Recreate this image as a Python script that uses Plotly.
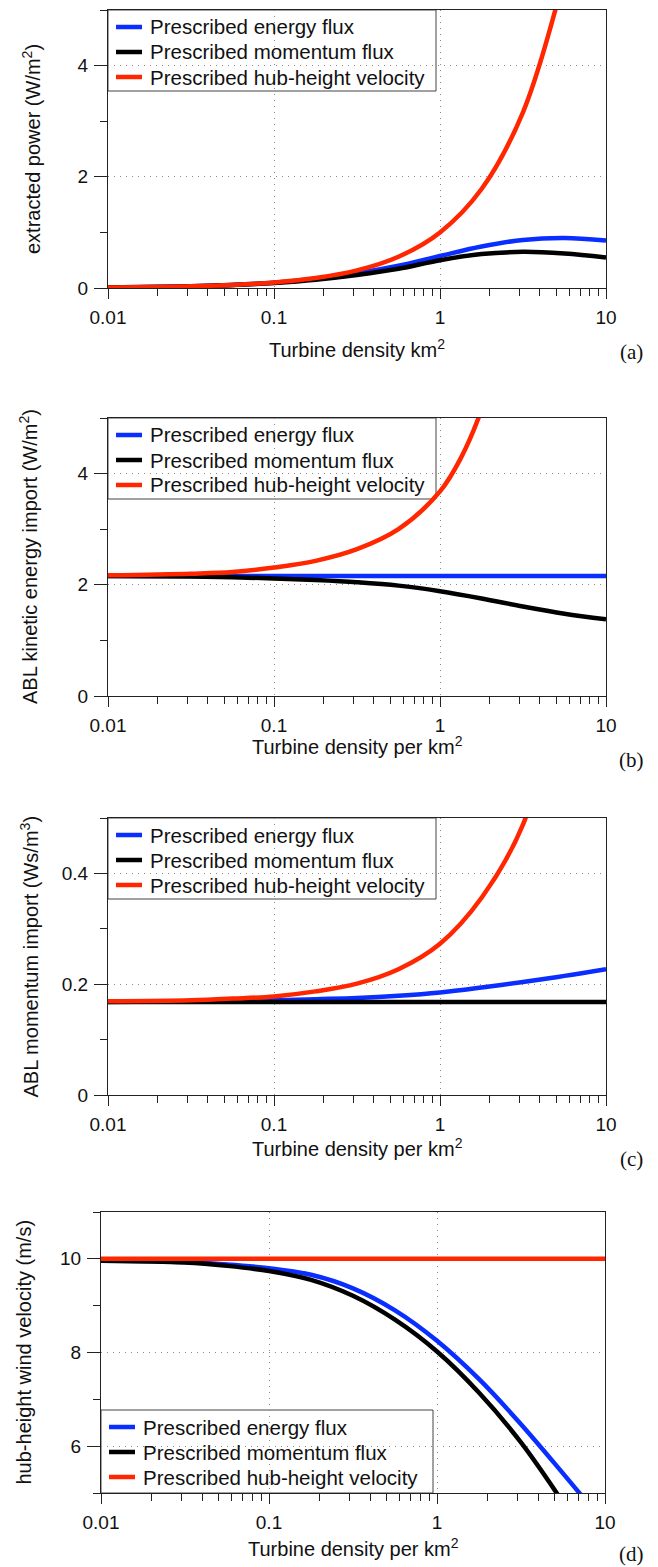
import plotly.graph_objects as go

# browser window is 658x1567; the page body has an 8px margin
VIEW_W, VIEW_H, OFF = 658, 1567, 8
W, H = VIEW_W - OFF, VIEW_H - OFF

# ---------------- data ----------------
series_names = ["Prescribed energy flux", "Prescribed momentum flux", "Prescribed hub-height velocity"]

n_grid = [0.01, 0.0316, 0.0562, 0.1, 0.178, 0.316, 0.562, 1.0, 1.78, 3.16, 5.62, 10.0]

# (a) extracted power (W/m^2)
power_energy = [0.01, 0.031, 0.055, 0.095, 0.165, 0.265, 0.40, 0.575, 0.745, 0.865, 0.90, 0.855]
power_momentum = [0.01, 0.031, 0.054, 0.092, 0.15, 0.235, 0.345, 0.50, 0.61, 0.65, 0.62, 0.55]
n_a_vel = [0.01, 0.0316, 0.0562, 0.1, 0.178, 0.316, 0.562, 1.0, 1.78, 3.16, 5.62]
power_velocity = [0.01, 0.032, 0.056, 0.1, 0.178, 0.316, 0.562, 1.0, 1.78, 3.16, 5.62]

# (b) ABL kinetic energy import (W/m^2)
ke_energy = [2.16, 2.16, 2.16, 2.16, 2.16, 2.16, 2.16, 2.16, 2.16, 2.16, 2.16, 2.16]
ke_momentum = [2.16, 2.15, 2.135, 2.115, 2.085, 2.045, 1.985, 1.885, 1.755, 1.61, 1.48, 1.38]
n_b_vel = [0.01, 0.0316, 0.0562, 0.1, 0.178, 0.316, 0.562, 1.0, 1.33, 1.78, 2.37]
ke_velocity = [2.17, 2.20, 2.23, 2.31, 2.43, 2.64, 3.00, 3.68, 4.27, 5.15, 6.40]

# (c) ABL momentum import (Ws/m^3)
mom_energy = [0.168, 0.169, 0.170, 0.171, 0.173, 0.175, 0.179, 0.185, 0.194, 0.204, 0.215, 0.227]
mom_momentum = [0.168, 0.168, 0.168, 0.168, 0.168, 0.168, 0.168, 0.168, 0.168, 0.168, 0.168, 0.168]
n_c_vel = [0.01, 0.0316, 0.0562, 0.1, 0.178, 0.316, 0.562, 1.0, 1.78, 3.16, 5.62]
mom_velocity = [0.169, 0.171, 0.174, 0.178, 0.187, 0.201, 0.227, 0.273, 0.356, 0.488, 0.76]

# (d) hub-height wind velocity (m/s)
vel_energy = [9.97, 9.93, 9.88, 9.80, 9.66, 9.37, 8.90, 8.25, 7.43, 6.47, 5.42, 4.34]
n_d_mom = [0.01, 0.0316, 0.0562, 0.1, 0.178, 0.316, 0.562, 1.0, 1.78, 3.16, 5.62]
vel_momentum = [9.96, 9.92, 9.85, 9.74, 9.55, 9.21, 8.70, 8.02, 7.14, 6.08, 4.80]
n_d_vel = [0.01, 0.1, 1, 10]
vel_velocity = [10.0, 10.0, 10.0, 10.0]

x_ticks = [0.01, 0.1, 1, 10]
x_ticktext = ["0.01", "0.1", "1", "10"]

panel_labels = ["(a)", "(b)", "(c)", "(d)"]
x_titles = ["Turbine density km<sup>2</sup>", "Turbine density per km<sup>2</sup>",
            "Turbine density per km<sup>2</sup>", "Turbine density per km<sup>2</sup>"]
y_titles = ["extracted power (W/m<sup>2</sup>)", "ABL kinetic energy import (W/m<sup>2</sup>)",
            "ABL momentum import (Ws/m<sup>3</sup>)", "hub-height wind velocity (m/s)"]

# ---------------- styling ----------------
COLORS = ["#0A2EFF", "#000000", "#FF2600"]
LW = 4.5
SANS = "Liberation Sans, Arial, Helvetica, sans-serif"
SERIF = "Liberation Serif, Times New Roman, serif"
AXC = "#222222"


def px_x(x):
    return (x - OFF) / W


def px_y(y):
    return 1 - (y - OFF) / H


# screen-pixel boxes of the four plot areas: (left, right, top, bottom)
boxes = [(108, 606, 10, 288), (108, 606, 418, 696), (108, 606, 818, 1095), (101, 605, 1212, 1493)]
# legend boxes (left, right, top, bottom) in screen pixels
legend_boxes = [(108, 436, 10, 91), (108, 436, 418, 499), (108, 436, 818, 899), (101, 433, 1410, 1493)]

minor_x = [m * d for d in (0.01, 0.1, 1) for m in range(2, 10)]

panels = [
    dict(series=[(n_grid, power_energy), (n_grid, power_momentum), (n_a_vel, power_velocity)],
         yrange=[0, 5], yt=[0, 2, 4], ytt=["0", "2", "4"], ym=[1, 3, 5]),
    dict(series=[(n_grid, ke_energy), (n_grid, ke_momentum), (n_b_vel, ke_velocity)],
         yrange=[0, 5], yt=[0, 2, 4], ytt=["0", "2", "4"], ym=[1, 3, 5]),
    dict(series=[(n_grid, mom_energy), (n_grid, mom_momentum), (n_c_vel, mom_velocity)],
         yrange=[0, 0.5], yt=[0, 0.2, 0.4], ytt=["0", "0.2", "0.4"], ym=[0.1, 0.3, 0.5]),
    dict(series=[(n_grid, vel_energy), (n_d_mom, vel_momentum), (n_d_vel, vel_velocity)],
         yrange=[5, 11], yt=[6, 8, 10], ytt=["6", "8", "10"], ym=[5, 7, 9, 11]),
]

fig = go.Figure()
layout = {}
annotations = []
shapes = []
y_title_x = [31, 29, 29, 23]
x_title_y = [348, 745, 1147, 1547]
label_y = [352, 760, 1159, 1554]

for i, p in enumerate(panels):
    k = "" if i == 0 else str(i + 1)
    xa, ya = "x" + k, "y" + k
    for j, (xs, ys) in enumerate(p["series"]):
        fig.add_trace(go.Scatter(
            x=xs, y=ys, mode="lines", name=series_names[j],
            line=dict(color=COLORS[j], width=LW, shape="spline", smoothing=1.0),
            xaxis=xa, yaxis=ya, showlegend=False, hoverinfo="skip"))
    l, r, t, b = boxes[i]
    common = dict(
        ticks="outside", tickwidth=1, tickcolor=AXC,
        showline=True, linecolor=AXC, linewidth=1, mirror=True,
        showgrid=True, gridcolor="#8a8a8a", gridwidth=1, griddash="1px,5px",
        zeroline=False, tickfont=dict(family=SANS, size=19, color="#111"),
        ticklabelstandoff=2, fixedrange=True, automargin=False)
    layout["xaxis" + k] = dict(
        type="log", range=[-2, 1], domain=[px_x(l), px_x(r)], anchor=ya,
        tickmode="array", tickvals=x_ticks, ticktext=x_ticktext, ticklen=10,
        minor=dict(tickmode="array", tickvals=minor_x, ticks="outside", ticklen=7,
                   tickwidth=1, tickcolor=AXC, showgrid=False),
        **common)
    layout["yaxis" + k] = dict(
        range=p["yrange"], domain=[px_y(b), px_y(t)], anchor=xa,
        tickmode="array", tickvals=p["yt"], ticktext=p["ytt"], ticklen=13,
        minor=dict(tickmode="array", tickvals=p["ym"], ticks="outside", ticklen=7,
                   tickwidth=1, tickcolor=AXC, showgrid=False),
        **common)

    # legend box (over the grid, under the curves) with a line sample and label per series
    lx0, lx1, ly0, ly1 = legend_boxes[i]
    shapes.append(dict(type="rect", xref="paper", yref="paper", layer="between",
                       x0=px_x(lx0), x1=px_x(lx1), y0=px_y(ly1), y1=px_y(ly0),
                       fillcolor="white", line=dict(color="#444", width=1)))
    for j, name in enumerate(series_names):
        yc = ly0 + 17 + 25 * j
        shapes.append(dict(type="line", xref="paper", yref="paper", layer="between",
                           x0=px_x(lx0 + 8), x1=px_x(lx0 + 34), y0=px_y(yc), y1=px_y(yc),
                           line=dict(color=COLORS[j], width=LW)))
        annotations.append(dict(text=name, x=px_x(lx0 + 41), y=px_y(yc),
                                xref="paper", yref="paper", xanchor="left", yanchor="middle",
                                showarrow=False, borderpad=0,
                                font=dict(family=SANS, size=20.5, color="#111")))

    # axis titles and panel labels
    annotations.append(dict(text=y_titles[i], x=px_x(y_title_x[i]), y=px_y((t + b) / 2),
                            xref="paper", yref="paper", xanchor="center", yanchor="middle",
                            textangle=-90, showarrow=False,
                            font=dict(family=SANS, size=20, color="#111")))
    annotations.append(dict(text=x_titles[i], x=px_x((l + r) / 2), y=px_y(x_title_y[i]),
                            xref="paper", yref="paper", xanchor="center", yanchor="middle",
                            showarrow=False, font=dict(family=SANS, size=20, color="#111")))
    annotations.append(dict(text=panel_labels[i], x=px_x(631), y=px_y(label_y[i]),
                            xref="paper", yref="paper", xanchor="center", yanchor="middle",
                            showarrow=False, font=dict(family=SERIF, size=21, color="#111")))

layout.update(width=W, height=H, margin=dict(l=0, r=0, t=0, b=0, autoexpand=False),
              paper_bgcolor="white", plot_bgcolor="white",
              annotations=annotations, shapes=shapes, showlegend=False)
fig.update_layout(**layout)
fig.write_html("out.html", config={"displayModeBar": False})
